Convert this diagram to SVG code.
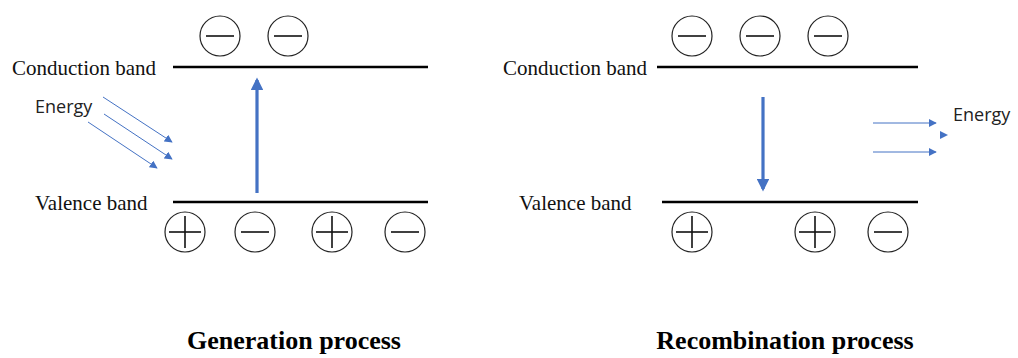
<svg xmlns="http://www.w3.org/2000/svg" width="1018" height="358" viewBox="0 0 1018 358">
  <defs>
    <style>
      .band { stroke: #000; stroke-width: 2.5; }
      .lbl { font-family: "Liberation Serif", "Times New Roman", serif; font-size: 21px; fill: #111; }
      .title { font-family: "Liberation Serif", "Times New Roman", serif; font-size: 26px; font-weight: bold; fill: #000; text-anchor: middle; }
      .energy { font-family: "Open Sans", "Liberation Sans", sans-serif; font-size: 18px; fill: #222; }
      .ring { fill: #fff; stroke: #222; stroke-width: 1.2; }
      .sign { stroke: #111; stroke-width: 1.6; }
      .ray { stroke: #4472c4; stroke-width: 1; fill: none; }
      .jump { stroke: #4472c4; stroke-width: 3.2; fill: none; }
    </style>
    <marker id="rayHead" viewBox="0 0 10 10" refX="9" refY="5" markerWidth="8" markerHeight="8" markerUnits="userSpaceOnUse" orient="auto">
      <path d="M0,0 L10,5 L0,10 Z" fill="#4472c4"/>
    </marker>
    <marker id="jumpHead" viewBox="0 0 10 10" refX="8" refY="5" markerWidth="4" markerHeight="4" orient="auto">
      <path d="M0,0 L10,5 L0,10 Z" fill="#4472c4"/>
    </marker>
    <g id="electron">
      <circle class="ring" r="20"/>
      <line class="sign" x1="-14" y1="0" x2="14" y2="0"/>
    </g>
    <g id="hole">
      <circle class="ring" r="20"/>
      <line class="sign" x1="-16" y1="0" x2="16" y2="0"/>
      <line class="sign" x1="0" y1="-16" x2="0" y2="16"/>
    </g>
  </defs>

  <rect width="1018" height="358" fill="#fff"/>

  <!-- Generation process -->
  <g id="gen-conduction">
    <line class="band" x1="173" y1="67" x2="428" y2="67"/>
    <text class="lbl" x="12" y="75">Conduction band</text>
  </g>
  <g id="gen-valence">
    <line class="band" x1="173" y1="202" x2="428" y2="202"/>
    <text class="lbl" x="35" y="210">Valence band</text>
  </g>
  <g id="gen-energy">
    <text class="energy" x="35" y="113">Energy</text>
  </g>
  <g id="gen-carriers">
    <use href="#electron" x="220" y="36"/>
    <use href="#electron" x="288" y="36"/>
    <use href="#hole" x="185" y="232"/>
    <use href="#electron" x="255" y="232"/>
    <use href="#hole" x="332" y="232"/>
    <use href="#electron" x="405" y="232"/>
  </g>
  <g id="gen-title">
    <text class="title" x="294" y="349">Generation process</text>
  </g>

  <!-- Recombination process -->
  <g id="rec-conduction">
    <line class="band" x1="657" y1="67" x2="918" y2="67"/>
    <text class="lbl" x="503" y="75">Conduction band</text>
  </g>
  <g id="rec-valence">
    <line class="band" x1="662" y1="202" x2="918" y2="202"/>
    <text class="lbl" x="519" y="210">Valence band</text>
  </g>
  <g id="rec-energy">
    <text class="energy" x="953" y="121">Energy</text>
  </g>
  <g id="rec-carriers">
    <use href="#electron" x="692" y="36"/>
    <use href="#electron" x="760" y="36"/>
    <use href="#electron" x="828" y="36"/>
    <use href="#hole" x="692" y="232"/>
    <use href="#hole" x="815" y="232"/>
    <use href="#electron" x="888" y="232"/>
  </g>
  <g id="rec-title">
    <text class="title" x="785" y="349">Recombination process</text>
  </g>

  <!-- Connectors -->
  <g id="connectors">
    <line class="jump" x1="257" y1="193" x2="257" y2="80" marker-end="url(#jumpHead)"/>
    <line class="jump" x1="763" y1="97" x2="763" y2="189" marker-end="url(#jumpHead)"/>
    <line class="ray" x1="103" y1="97" x2="172" y2="142" marker-end="url(#rayHead)"/>
    <line class="ray" x1="104" y1="114" x2="172" y2="159" marker-end="url(#rayHead)"/>
    <line class="ray" x1="88" y1="122" x2="157" y2="168" marker-end="url(#rayHead)"/>
    <line class="ray" x1="873" y1="123" x2="936" y2="123" marker-end="url(#rayHead)"/>
    <path d="M940,131 L948,135 L940,139 Z" fill="#4472c4"/>
    <line class="ray" x1="873" y1="152" x2="936" y2="152" marker-end="url(#rayHead)"/>
  </g>
</svg>
